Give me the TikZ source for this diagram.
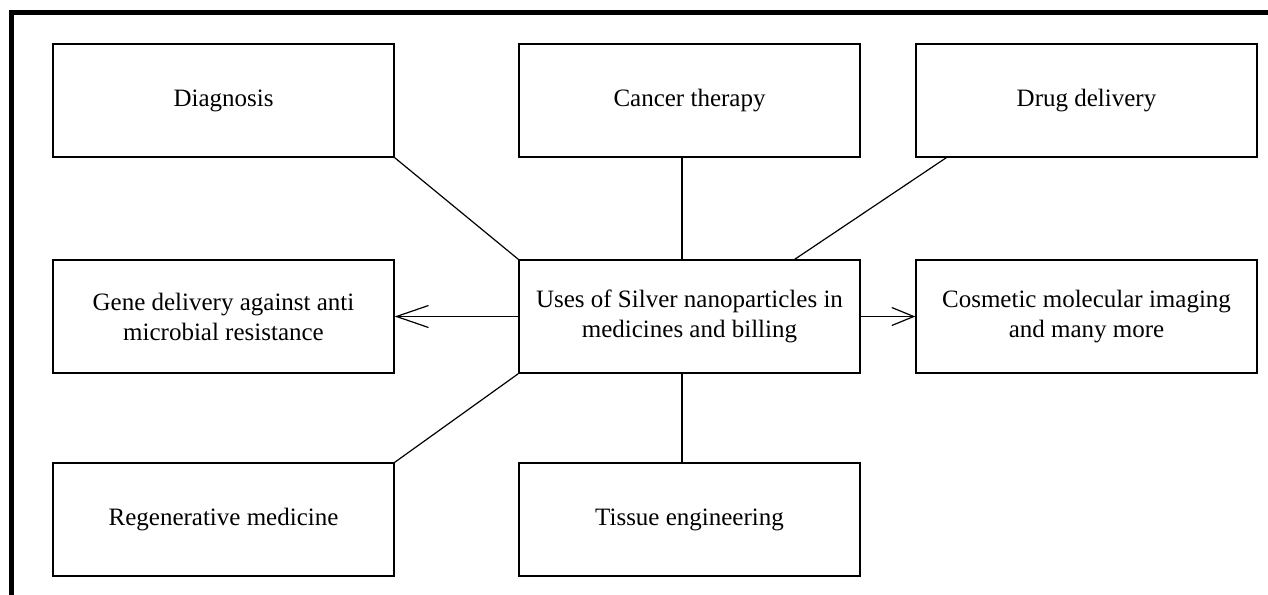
\documentclass[tikz,border=0pt]{standalone}
\usepackage{fontspec}
\setmainfont{Liberation Serif}
\usetikzlibrary{arrows.meta,positioning}

\begin{document}
\begin{tikzpicture}[x=0.5pt,y=-0.5pt,
    usebox/.style={rectangle,draw,line width=0.65pt,minimum width=170.5pt,
      minimum height=56.5pt,inner sep=0pt,align=center,
      font=\fontsize{12.5}{15}\selectfont},
    link/.style={line width=0.6pt}]
    \useasboundingbox (0,0) rectangle (1268,594);
    \draw[line width=2.5pt] (11.5,610) -- (11.5,12.5) -- (1290,12.5);
    \node[usebox] (hub) at (689.5,316.5) {Uses of Silver nanoparticles in\\medicines and billing};
    \foreach \name/\x/\y/\txt in {diag/223.5/100.5/Diagnosis,
        cancer/689.5/100.5/{Cancer therapy},
        drug/1086.5/100.5/{Drug delivery},
        gene/223.5/316.5/{Gene delivery against anti\\microbial resistance},
        cosm/1086.5/316.5/{Cosmetic molecular imaging\\and many more},
        regen/223.5/519.5/{Regenerative medicine},
        tissue/689.5/519.5/{Tissue engineering}}
        \node[usebox] (\name) at (\x,\y) {\txt};
    \draw[link] (diag.south east) -- (hub.north west);
    \draw[link] ([xshift=-3.75pt]cancer.south) -- ([xshift=-3.75pt]hub.north);
    \draw[link] ([xshift=15.5pt]drug.south west) -- ([xshift=-33pt]hub.north east);
    \draw[link] (regen.north east) -- (hub.south west);
    \draw[link] ([xshift=-3.75pt]hub.south) -- ([xshift=-3.75pt]tissue.north);
    \draw[link,-{Straight Barb[length=16pt,width=11pt]}] (hub.west) -- (gene.east);
    \draw[link,-{Straight Barb[length=11pt,width=9pt]}] (hub.east) -- (cosm.west);
\end{tikzpicture}
\end{document}
